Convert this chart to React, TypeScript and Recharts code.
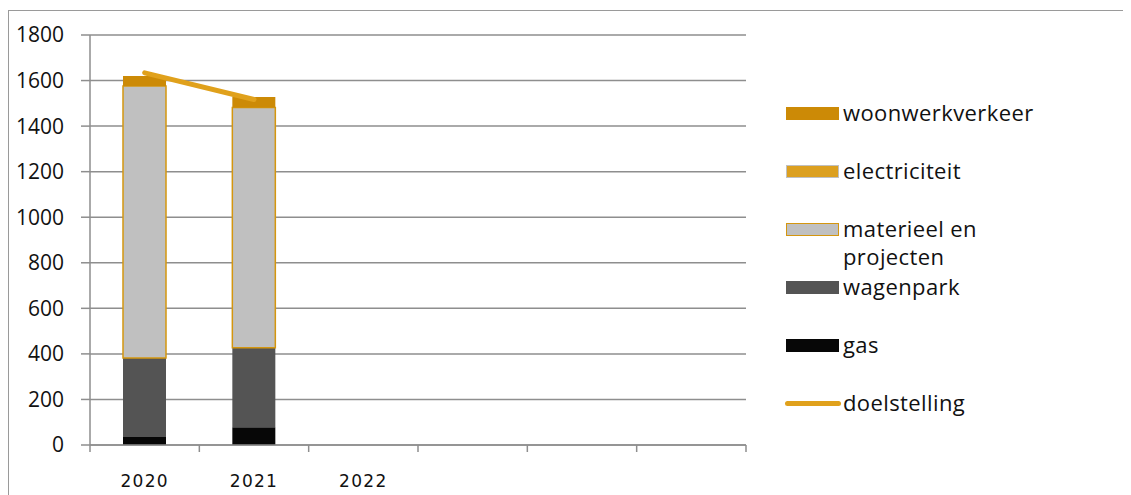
import React from 'react';
import { ComposedChart, Bar, Line, XAxis, YAxis, CartesianGrid } from 'recharts';

const categories = ['2020', '2021', '2022', 'c4', 'c5', 'c6'];
const categoryLabels = ['2020', '2021', '2022', '', '', ''];

const gas = [35, 78, null, null, null, null];
const wagenpark = [347, 349, null, null, null, null];
const materieel = [1194, 1055, null, null, null, null];
const electriciteit = [0, 0, null, null, null, null];
const woonwerkverkeer = [44, 46, null, null, null, null];
const doelstelling = [1634, 1517, null, null, null, null];

const yTicks = [0, 200, 400, 600, 800, 1000, 1200, 1400, 1600, 1800];

const data = categories.map((c, i) => ({
  cat: c,
  gas: gas[i],
  wagenpark: wagenpark[i],
  materieel: materieel[i],
  electriciteit: electriciteit[i],
  woonwerkverkeer: woonwerkverkeer[i],
  doelstelling: doelstelling[i],
}));

const colors = {
  gas: '#070707',
  wagenpark: '#545454',
  materieel: '#c0c0c0',
  materieelStroke: '#d4960f',
  electriciteit: '#dca020',
  woonwerkverkeer: '#cc8a06',
  doelstelling: '#e0a11c',
  grid: '#8e8e8e',
  text: '#111111',
};

const W = 1123;
const H = 487;
const margin = { top: 27, right: 385, left: 0, bottom: 0 };
const yAxisWidth = 82;
const plotWidth = W - margin.left - margin.right - yAxisWidth;
const band = plotWidth / categories.length;

const legendItems = [
  { key: 'woonwerkverkeer', label: 'woonwerkverkeer', fill: colors.woonwerkverkeer, stroke: colors.woonwerkverkeer },
  { key: 'electriciteit', label: 'electriciteit', fill: colors.electriciteit, stroke: '#c0c0c0' },
  { key: 'materieel', label: 'materieel en\nprojecten', fill: colors.materieel, stroke: colors.materieelStroke },
  { key: 'wagenpark', label: 'wagenpark', fill: colors.wagenpark, stroke: colors.wagenpark },
  { key: 'gas', label: 'gas', fill: colors.gas, stroke: colors.gas },
  { key: 'doelstelling', label: 'doelstelling', line: true, fill: colors.doelstelling, stroke: colors.doelstelling },
];

const XTick = (props: any) => {
  const { x, y, index } = props;
  const label = categoryLabels[index] ?? '';
  const top = y - 8;
  const left = x - band / 2;
  return (
    <g>
      <line x1={left} y1={top} x2={left} y2={top + 7} stroke={colors.grid} strokeWidth={1.5} />
      {index === categories.length - 1 && (
        <line x1={x + band / 2} y1={top} x2={x + band / 2} y2={top + 7} stroke={colors.grid} strokeWidth={1.5} />
      )}
      <text
        x={x}
        y={top + 37}
        textAnchor="middle"
        dominantBaseline="middle"
        fontFamily="DejaVu Sans"
        fontSize={17}
        letterSpacing={1.3}
        fill={colors.text}
      >
        {label}
      </text>
    </g>
  );
};

const LegendBox = () => (
  <div
    style={{
      position: 'absolute',
      left: 777,
      top: 92,
      width: 340,
      fontFamily: 'Open Sans',
      fontSize: 22,
      letterSpacing: 0.4,
      color: colors.text,
    }}
  >
    {legendItems.map((item) => (
      <div key={item.key} style={{ position: 'relative', height: 58 }}>
        {item.line ? (
          <div
            style={{
              position: 'absolute',
              left: 0,
              top: 11,
              width: 56,
              height: 5,
              borderRadius: 3,
              background: item.fill,
            }}
          />
        ) : (
          <div
            style={{
              position: 'absolute',
              left: 1,
              top: 7,
              width: 51,
              height: 11,
              background: item.fill,
              border: `1.5px solid ${item.stroke}`,
            }}
          />
        )}
        <div style={{ position: 'absolute', left: 58, top: -2, lineHeight: '28px', whiteSpace: 'pre' }}>
          {item.label}
        </div>
      </div>
    ))}
  </div>
);

const App: React.FC = () => {
  return (
    <div style={{ position: 'relative', width: W, height: H, overflow: 'hidden', background: '#fff' }}>
      <div
        style={{
          position: 'absolute',
          left: 0,
          top: 2,
          width: W + 20,
          height: H + 20,
          borderLeft: '1.5px solid #9a9a9a',
          borderTop: '1.5px solid #9a9a9a',
        }}
      />
      <ComposedChart width={W} height={H} data={data} margin={margin} style={{ position: 'absolute', left: 0, top: 0 }}>
        <CartesianGrid vertical={false} stroke={colors.grid} strokeWidth={1.5} />
        <XAxis
          dataKey="cat"
          height={50}
          tick={<XTick />}
          tickLine={false}
          axisLine={{ stroke: colors.grid, strokeWidth: 1.5 }}
          interval={0}
        />
        <YAxis
          width={yAxisWidth}
          domain={[0, 1800]}
          ticks={yTicks}
          tickSize={9}
          tickMargin={17}
          tickLine={{ stroke: colors.grid, strokeWidth: 1.5 }}
          axisLine={{ stroke: colors.grid, strokeWidth: 1.5 }}
          tick={{ fill: colors.text, fontSize: 21, fontFamily: 'Open Sans' }}
        />
        <Bar dataKey="gas" stackId="a" fill={colors.gas} barSize={43} isAnimationActive={false} />
        <Bar dataKey="wagenpark" stackId="a" fill={colors.wagenpark} barSize={43} isAnimationActive={false} />
        <Bar
          dataKey="materieel"
          stackId="a"
          fill={colors.materieel}
          stroke={colors.materieelStroke}
          strokeWidth={1.5}
          barSize={43}
          isAnimationActive={false}
        />
        <Bar dataKey="electriciteit" stackId="a" fill={colors.electriciteit} barSize={43} isAnimationActive={false} />
        <Bar dataKey="woonwerkverkeer" stackId="a" fill={colors.woonwerkverkeer} barSize={43} isAnimationActive={false} />
        <Line
          dataKey="doelstelling"
          stroke={colors.doelstelling}
          strokeWidth={5}
          strokeLinecap="round"
          dot={false}
          activeDot={false}
          connectNulls={false}
          isAnimationActive={false}
        />
      </ComposedChart>
      <LegendBox />
    </div>
  );
};

export default App;
